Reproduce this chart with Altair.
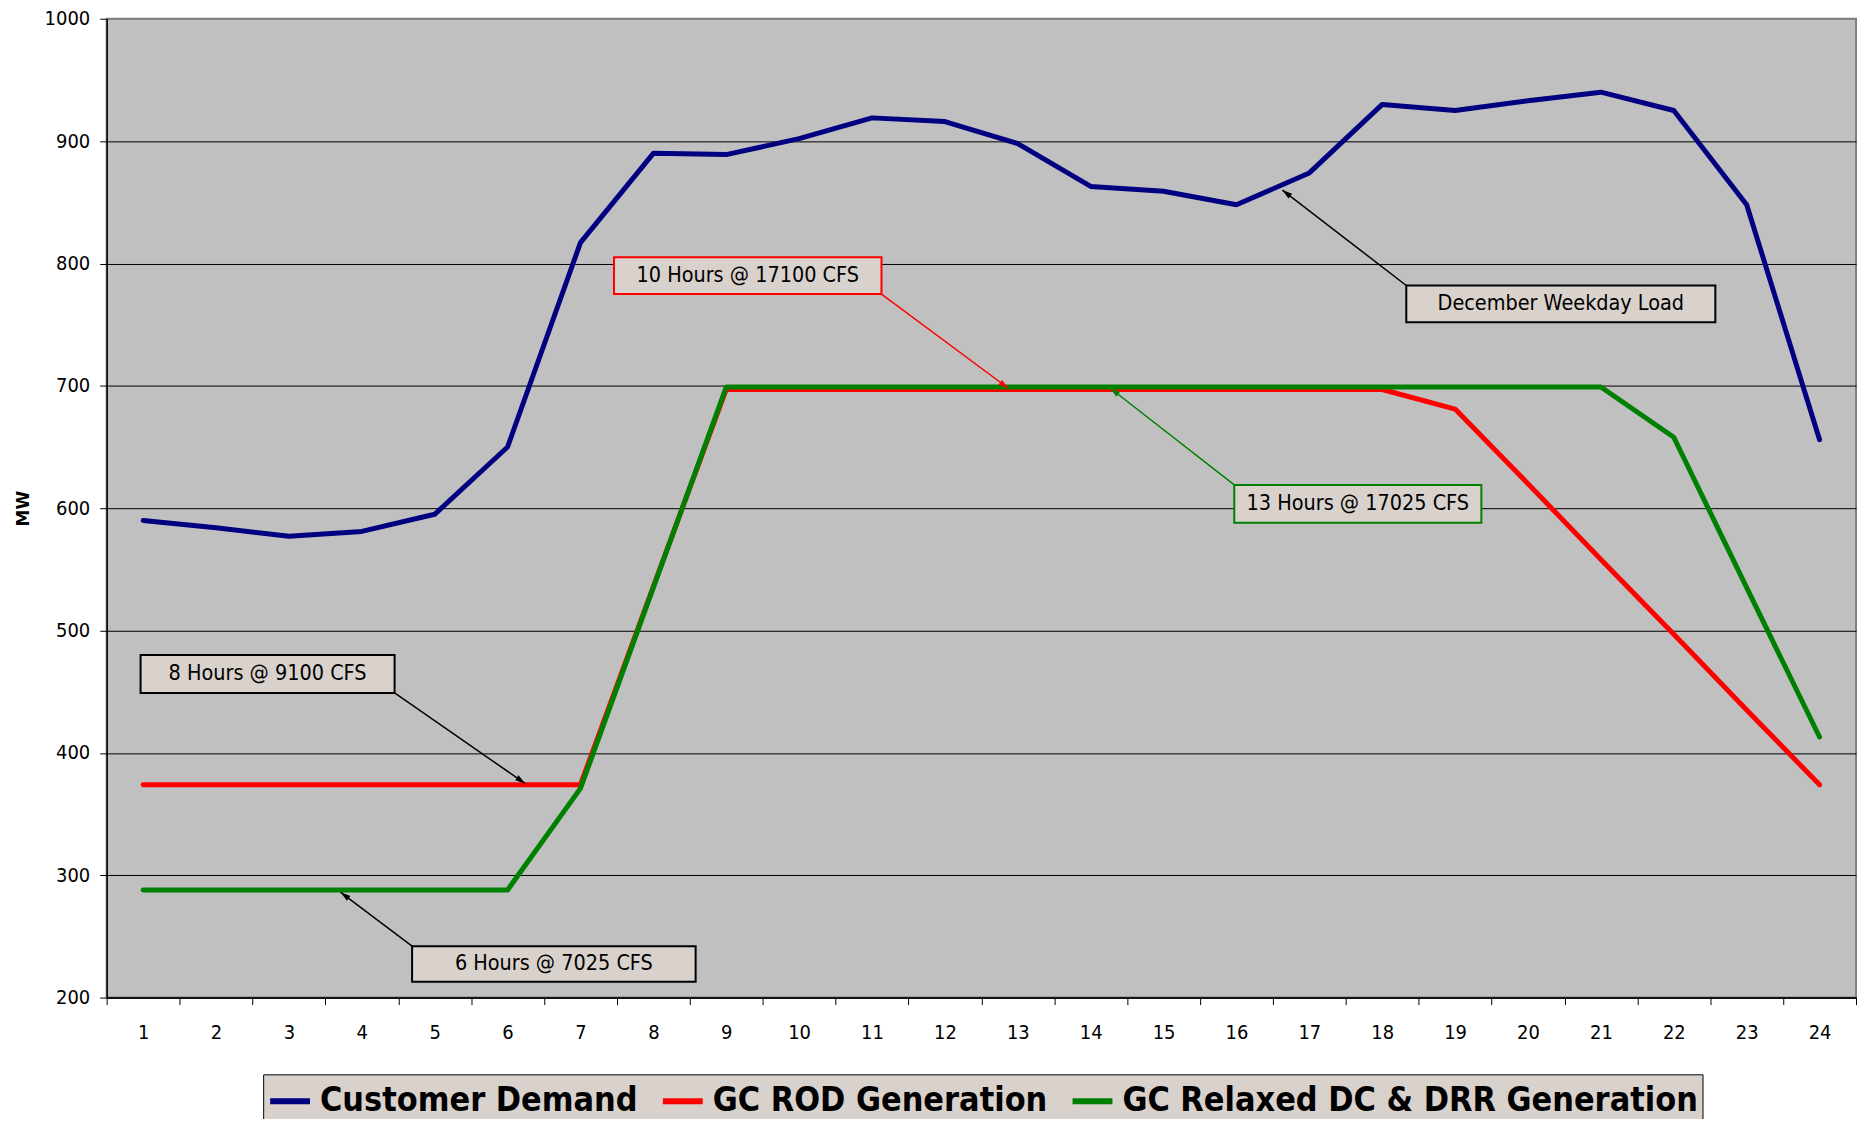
import math
import altair as alt
import pandas as pd

# ---------------- data ----------------
hours = list(range(1, 25))
series_names = ["Customer Demand", "GC ROD Generation", "GC Relaxed DC & DRR Generation"]
series_colors = ["#000080", "#ff0000", "#008000"]

customer_demand = [590, 584, 577, 581, 595, 650, 817, 890, 889, 902, 919, 916,
                   898, 863, 859, 848, 874, 930, 925, 933, 940, 925, 848, 656]
gc_rod = [374, 374, 374, 374, 374, 374, 374, 536, 697, 697, 697, 697,
          697, 697, 697, 697, 697, 697, 681, 620, 558, 497, 435, 374]
gc_relaxed = [288, 288, 288, 288, 288, 288, 371, 535, 699, 699, 699, 699,
              699, 699, 699, 699, 699, 699, 699, 699, 699, 658, 535, 413]

y_ticks = [200, 300, 400, 500, 600, 700, 800, 900, 1000]

# annotations (data coordinates: hour position, MW)
ann_text = ["10 Hours @ 17100 CFS", "December Weekday Load", "13 Hours @ 17025 CFS",
            "8 Hours @ 9100 CFS", "6 Hours @ 7025 CFS"]
ann_color = ["#ff0000", "#000000", "#008000", "#000000", "#000000"]
box_x1 = [7.46, 18.33, 15.97, 0.965, 4.69]
box_x2 = [11.13, 22.57, 19.36, 4.45, 8.58]
box_top = [805, 782, 619, 480, 242]
box_bottom = [775, 752, 588, 449, 213]
arrow_x_from = [11.13, 18.33, 15.97, 4.45, 4.69]
arrow_y_from = [775, 782, 619, 449, 242]
arrow_x_to = [12.87, 16.63, 14.27, 6.24, 3.71]
arrow_y_to = [698, 860, 698, 375, 286]

# ---------------- layout ----------------
W, H = 1755, 982
PX_X = W / 24.0
PX_Y = H / 800.0
FONT = "DejaVu Sans Condensed, DejaVu Sans, sans-serif"
LEGEND_FONT = "DejaVu Sans Condensed, DejaVu Sans, sans-serif"
BOX_FILL = "#d9d1cc"

rows = []
for name, vals in zip(series_names, [customer_demand, gc_rod, gc_relaxed]):
    for h, v in zip(hours, vals):
        rows.append({"series": name, "hour": h, "mw": v})
df_lines = pd.DataFrame(rows)

heads = []
for i in range(len(ann_text)):
    dx = (arrow_x_to[i] - arrow_x_from[i]) * PX_X
    dy = -(arrow_y_to[i] - arrow_y_from[i]) * PX_Y
    L = math.hypot(dx, dy)
    ux, uy = dx / L, dy / L
    ang = math.degrees(math.atan2(ux, -uy)) % 360
    heads.append({
        "hx": arrow_x_to[i] - ux * 5 / PX_X,
        "hy": arrow_y_to[i] + uy * 5 / PX_Y,
        "angle": ang,
        "color": ann_color[i],
    })
df_heads = pd.DataFrame(heads)

df_ann = pd.DataFrame({
    "text": ann_text, "color": ann_color,
    "x1": box_x1, "x2": box_x2, "top": box_top, "bottom": box_bottom,
    "xm": [(a + b) / 2 for a, b in zip(box_x1, box_x2)],
    "ym": [(a + b) / 2 for a, b in zip(box_top, box_bottom)],
    "xf": arrow_x_from, "yf": arrow_y_from, "xt": arrow_x_to, "yt": arrow_y_to,
})

X_SCALE = alt.Scale(domain=[0.5, 24.5], nice=False, zero=False)
Y_SCALE = alt.Scale(domain=[200, 1000], nice=False, zero=False)

X_AXIS = alt.Axis(
    values=[i + 0.5 for i in range(25)],
    labelExpr="datum.value < 24 ? format(datum.value + 0.5, 'd') : ''",
    labelOffset=PX_X / 2, title=None, grid=False,
    tickSize=7, tickColor="black", tickWidth=1,
    domainColor="black", domainWidth=1.5,
    labelFont=FONT, labelFontSize=20, labelColor="black", labelPadding=18,
    labelOverlap=False, labelFlush=False, labelBound=False,
)
Y_AXIS = alt.Axis(
    values=y_ticks, format="d", title="MW", grid=True,
    gridColor={"condition": {"test": "datum.value == 1000", "value": "#808080"}, "value": "black"},
    gridWidth=1, tickSize=7, tickColor="black", domainColor="black", domainWidth=1.5,
    labelFont=FONT, labelFontSize=20, labelColor="black", labelPadding=10,
    titleFont="DejaVu Sans", titleFontSize=17, titleFontWeight="bold", titleColor="black",
    titlePadding=12, labelOverlap=False,
)


def xenc(field):
    return alt.X(f"{field}:Q", scale=X_SCALE, axis=X_AXIS, title=None)


def yenc(field):
    return alt.Y(f"{field}:Q", scale=Y_SCALE, axis=Y_AXIS, title="MW")


lines = alt.Chart(df_lines).mark_line(
    strokeWidth=5, strokeCap="round", strokeJoin="round"
).encode(
    x=xenc("hour"),
    y=yenc("mw"),
    color=alt.Color(
        "series:N",
        scale=alt.Scale(domain=series_names, range=series_colors),
        legend=alt.Legend(
            title=None, orient="none", legendX=157, legendY=1059,
            direction="horizontal", fillColor=BOX_FILL, strokeColor="black",
            padding=4, labelFont=LEGEND_FONT, labelFontSize=34,
            labelFontWeight="bold", labelColor="black", labelLimit=2000,
            symbolType="stroke", symbolStrokeWidth=6, symbolSize=1600,
            labelOffset=7, columnPadding=13,
        ),
    ),
)

arrows = alt.Chart(df_ann).mark_rule(strokeWidth=1.5).encode(
    x=xenc("xf"), y=yenc("yf"), x2="xt:Q", y2="yt:Q",
    color=alt.Color("color:N", scale=None),
)

arrow_heads = alt.Chart(df_heads).mark_point(
    shape="M0,-1L0.6,1L-0.6,1Z", filled=True, size=100, opacity=1, strokeWidth=0
).encode(
    x=xenc("hx"), y=yenc("hy"),
    angle=alt.Angle("angle:Q", scale=None),
    color=alt.Color("color:N", scale=None),
)

boxes = alt.Chart(df_ann).mark_rect(fill=BOX_FILL, strokeWidth=2).encode(
    x=xenc("x1"), x2="x2:Q", y=yenc("top"), y2="bottom:Q",
    stroke=alt.Stroke("color:N", scale=None),
)

texts = alt.Chart(df_ann).mark_text(
    font=FONT, fontSize=21.5, color="black", baseline="middle", align="center"
).encode(
    x=xenc("xm"), y=yenc("ym"), text="text:N",
)

chart = alt.layer(lines, arrows, arrow_heads, boxes, texts).properties(
    width=W, height=H,
    autosize=alt.AutoSizeParams(type="none"),
    padding={"left": 99, "top": 9, "right": 4, "bottom": 120},
    background="white",
).configure_view(
    fill="#c0c0c0", stroke="#808080", strokeWidth=2
)

chart.save("out.html", embed_options={"renderer": "svg", "actions": False})
